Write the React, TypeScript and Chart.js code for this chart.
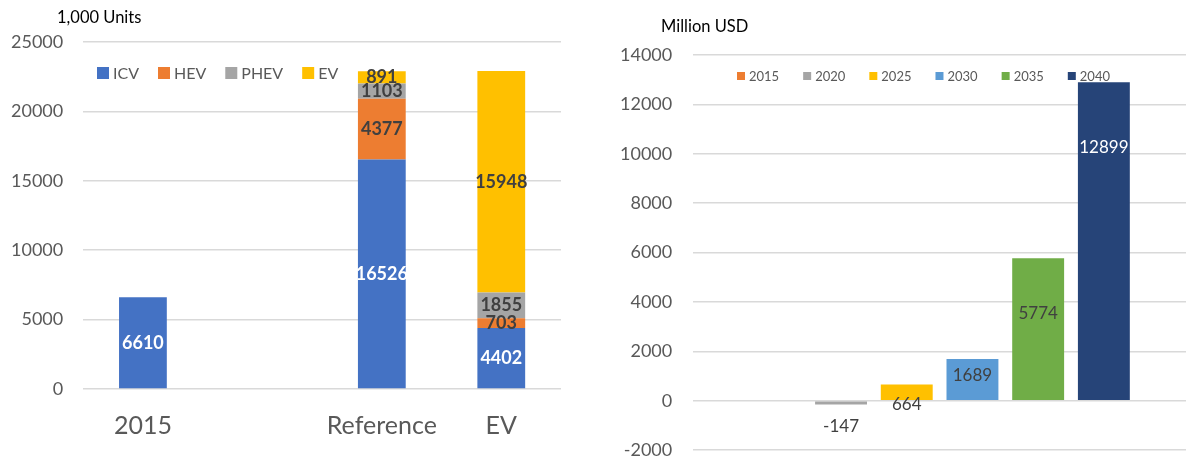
import React, { useEffect, useRef } from "react";
import { Chart, registerables } from "chart.js";

Chart.register(...registerables);

// ---------- Left chart data (1,000 Units) ----------
const unitCategories = ["2015", "", "Reference", "EV"];
const icvValues = [6610, null, 16526, 4402];
const hevValues = [null, null, 4377, 703];
const phevValues = [null, null, 1103, 1855];
const evValues = [null, null, 891, 15948];
const unitSeriesNames = ["ICV", "HEV", "PHEV", "EV"];
const unitColors = ["#4472C4", "#ED7D31", "#A5A5A5", "#FFC000"];
const unitLabelColors = ["#FFFFFF", "#404040", "#404040", "#404040"];
const unitAxisMin = 0;
const unitAxisMax = 25000;
const unitAxisStep = 5000;

// ---------- Right chart data (Million USD) ----------
const marketYears = ["2015", "2020", "2025", "2030", "2035", "2040"];
const marketValues = [null, -147, 664, 1689, 5774, 12899];
const marketColors = ["#ED7D31", "#A5A5A5", "#FFC000", "#5B9BD5", "#70AD47", "#264478"];
const marketLabelColors = ["#404040", "#404040", "#404040", "#404040", "#404040", "#FFFFFF"];
const marketAxisMin = -2000;
const marketAxisMax = 14000;
const marketAxisStep = 2000;

const FONT = "Lato, 'Open Sans', sans-serif";
const GREY_TEXT = "#595959";
const GRID = "#D9D9D9";

// Overlay legend plugin (drawn inside the plot area)
const overlayLegend = {
  id: "overlayLegend",
  afterDraw(chart: any, _args: any, opts: any) {
    const ctx = chart.ctx;
    ctx.save();
    ctx.font = `${opts.fontSize}px ${FONT}`;
    ctx.textBaseline = "middle";
    ctx.textAlign = "left";
    let x = opts.x;
    const y = opts.y;
    chart.data.datasets.forEach((ds: any) => {
      ctx.fillStyle = ds.backgroundColor;
      ctx.fillRect(x, y - opts.box / 2, opts.box, opts.box);
      x += opts.box + opts.boxGap;
      ctx.fillStyle = GREY_TEXT;
      ctx.fillText(ds.label, x, y + 1);
      x += ctx.measureText(ds.label).width + opts.itemGap;
    });
    ctx.restore();
  },
};

// Corner title plugin
const cornerTitle = {
  id: "cornerTitle",
  afterDraw(chart: any, _args: any, opts: any) {
    const ctx = chart.ctx;
    ctx.save();
    ctx.font = `${opts.fontSize}px ${FONT}`;
    ctx.fillStyle = "#000000";
    ctx.textBaseline = "middle";
    ctx.textAlign = "left";
    ctx.fillText(opts.text, opts.x, opts.y);
    ctx.restore();
  },
};

// Value label plugin
const valueLabels = {
  id: "valueLabels",
  afterDatasetsDraw(chart: any, _args: any, opts: any) {
    const ctx = chart.ctx;
    ctx.save();
    ctx.font = `${opts.bold ? "bold " : ""}${opts.fontSize}px ${FONT}`;
    ctx.textAlign = "center";
    ctx.textBaseline = "middle";
    chart.data.datasets.forEach((ds: any, di: number) => {
      const meta = chart.getDatasetMeta(di);
      meta.data.forEach((el: any, i: number) => {
        const v = ds.data[i];
        if (v === null || v === undefined) return;
        let y;
        if (opts.mode === "center") {
          y = (el.y + el.base) / 2;
        } else {
          y = el.y + (opts.dy ? opts.dy[di] : 0);
        }
        ctx.fillStyle = opts.colors[di];
        ctx.fillText(String(v), el.x, y);
      });
    });
    ctx.restore();
  },
};

export default function App() {
  const leftRef = useRef<HTMLCanvasElement | null>(null);
  const rightRef = useRef<HTMLCanvasElement | null>(null);

  useEffect(() => {
    const unitSeries = [icvValues, hevValues, phevValues, evValues];
    const left = new Chart(leftRef.current as HTMLCanvasElement, {
      type: "bar",
      data: {
        labels: unitCategories,
        datasets: unitSeries.map((d, i) => ({
          label: unitSeriesNames[i],
          data: d,
          backgroundColor: unitColors[i],
          borderWidth: 0,
          barPercentage: 0.4,
          categoryPercentage: 1.0,
        })),
      },
      options: {
        responsive: false,
        animation: false,
        layout: { padding: { left: -9, right: 29, top: 42, bottom: -2 } },
        plugins: {
          legend: { display: false },
          tooltip: { enabled: false },
          overlayLegend: { x: 97, y: 73, box: 12, boxGap: 4, itemGap: 19, fontSize: 16 },
          cornerTitle: { text: "1,000 Units", x: 57, y: 18, fontSize: 16.5 },
          valueLabels: { mode: "center", bold: true, fontSize: 18, colors: unitLabelColors },
        } as any,
        scales: {
          x: {
            stacked: true,
            grid: { display: false, drawTicks: false },
            border: { display: false },
            ticks: { font: { family: FONT, size: 25 }, color: GREY_TEXT, padding: 22 },
          },
          y: {
            stacked: true,
            min: unitAxisMin,
            max: unitAxisMax,
            ticks: {
              stepSize: unitAxisStep,
              font: { family: FONT, size: 18 },
              color: GREY_TEXT,
              padding: 20,
              callback: (v: any) => String(v),
            },
            grid: { color: GRID, lineWidth: 1.5, drawTicks: false },
            border: { display: false },
          },
        },
      },
      plugins: [overlayLegend, cornerTitle, valueLabels],
    });

    const right = new Chart(rightRef.current as HTMLCanvasElement, {
      type: "bar",
      data: {
        labels: [""],
        datasets: marketYears.map((yr, i) => ({
          label: yr,
          data: [marketValues[i]],
          backgroundColor: marketColors[i],
          borderWidth: 0,
          barPercentage: 0.79,
          categoryPercentage: 0.8,
        })),
      },
      options: {
        responsive: false,
        animation: false,
        layout: { padding: { left: -1, right: 0, top: 55, bottom: 0 } },
        plugins: {
          legend: { display: false },
          tooltip: { enabled: false },
          overlayLegend: { x: 137, y: 76, box: 8, boxGap: 4, itemGap: 24, fontSize: 13 },
          cornerTitle: { text: "Million USD", x: 61, y: 27, fontSize: 16.5 },
          valueLabels: {
            mode: "end",
            bold: false,
            fontSize: 17,
            colors: marketLabelColors,
            dy: [0, 22, 20, 16, 55, 65],
          },
        } as any,
        scales: {
          x: { display: false },
          y: {
            min: marketAxisMin,
            max: marketAxisMax,
            ticks: {
              stepSize: marketAxisStep,
              font: { family: FONT, size: 18 },
              color: GREY_TEXT,
              padding: 21,
              callback: (v: any) => String(v),
            },
            grid: { color: GRID, lineWidth: 1.5, drawTicks: false },
            border: { display: false },
          },
        },
      },
      plugins: [overlayLegend, cornerTitle, valueLabels],
    });

    return () => {
      left.destroy();
      right.destroy();
    };
  }, []);

  return (
    <div
      style={{
        position: "absolute",
        left: 0,
        top: 0,
        width: 1186,
        height: 461,
        overflow: "hidden",
        background: "#FFFFFF",
      }}
    >
      <canvas ref={leftRef} width={590} height={461} style={{ position: "absolute", left: 0, top: 0 }} />
      <canvas ref={rightRef} width={586} height={482} style={{ position: "absolute", left: 600, top: 0 }} />
    </div>
  );
}
